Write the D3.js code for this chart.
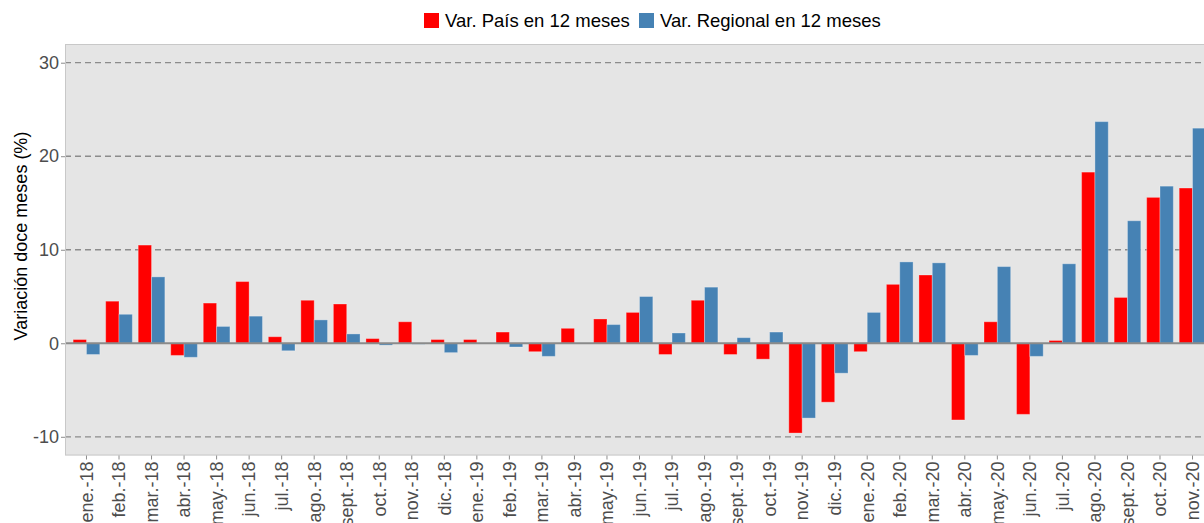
<!DOCTYPE html>
<html>
<head>
<meta charset="utf-8">
<script src="https://cdn.jsdelivr.net/npm/d3@7"></script>
<style>
  html, body { margin: 0; padding: 0; background: #ffffff; }
  svg { display: block; font-family: "Liberation Sans", Arial, sans-serif; }
</style>
</head>
<body>
<svg id="chart" width="1204" height="523"></svg>
<script>
const categories = [
  "ene.-18","feb.-18","mar.-18","abr.-18","may.-18","jun.-18","jul.-18","ago.-18","sept.-18","oct.-18","nov.-18","dic.-18",
  "ene.-19","feb.-19","mar.-19","abr.-19","may.-19","jun.-19","jul.-19","ago.-19","sept.-19","oct.-19","nov.-19","dic.-19",
  "ene.-20","feb.-20","mar.-20","abr.-20","may.-20","jun.-20","jul.-20","ago.-20","sept.-20","oct.-20","nov.-20"
];
const varPais = [
  0.4, 4.5, 10.5, -1.3, 4.3, 6.6, 0.7, 4.6, 4.2, 0.5, 2.3, 0.4,
  0.4, 1.2, -0.9, 1.6, 2.6, 3.3, -1.2, 4.6, -1.2, -1.7, -9.6, -6.3,
  -0.9, 6.3, 7.3, -8.2, 2.3, -7.6, 0.3, 18.3, 4.9, 15.6, 16.6
];
const varRegional = [
  -1.2, 3.1, 7.1, -1.5, 1.8, 2.9, -0.8, 2.5, 1.0, -0.2, -0.1, -1.0,
  0.0, -0.4, -1.4, 0.0, 2.0, 5.0, 1.1, 6.0, 0.6, 1.2, -8.0, -3.2,
  3.3, 8.7, 8.6, -1.3, 8.2, -1.4, 8.5, 23.7, 13.1, 16.8, 23.0
];
const seriesNames = ["Var. País en 12 meses", "Var. Regional en 12 meses"];
const seriesColors = ["#ff0000", "#4682b4"];
const yTicks = [-10, 0, 10, 20, 30];
const yDomain = [-12, 32];
const yTitle = "Variación doce meses (%)";

const svg = d3.select("#chart");
const panel = { left: 65, right: 1214, top: 44, bottom: 455.5 };

const x = d3.scaleBand()
  .domain(categories)
  .range([panel.left, panel.right])
  .paddingInner(0.18)
  .paddingOuter(0.25);
const xSub = d3.scaleBand()
  .domain([0, 1])
  .range([0, x.bandwidth()]);
const y = d3.scaleLinear().domain(yDomain).range([panel.bottom, panel.top]);

// clip for panel
svg.append("defs").append("clipPath").attr("id", "clip")
  .append("rect")
  .attr("x", panel.left).attr("y", panel.top)
  .attr("width", panel.right - panel.left).attr("height", panel.bottom - panel.top);

// panel background
svg.append("rect")
  .attr("x", panel.left).attr("y", panel.top)
  .attr("width", panel.right - panel.left).attr("height", panel.bottom - panel.top)
  .attr("fill", "#e5e5e5");

// gridlines
svg.append("g").selectAll("line")
  .data(yTicks.filter(d => d !== 0))
  .join("line")
  .attr("x1", panel.left).attr("x2", panel.right)
  .attr("y1", d => y(d)).attr("y2", d => y(d))
  .attr("stroke", "#8c8c8c")
  .attr("stroke-width", 1.3)
  .attr("stroke-dasharray", "6,4");

// bars
const rows = categories.map((c, i) => ({ c, vals: [varPais[i], varRegional[i]] }));
const barsG = svg.append("g").attr("clip-path", "url(#clip)");
barsG.selectAll("g")
  .data(rows)
  .join("g")
  .attr("transform", d => `translate(${x(d.c)},0)`)
  .selectAll("rect")
  .data(d => d.vals.map((v, k) => ({ v, k })))
  .join("rect")
  .attr("x", d => xSub(d.k))
  .attr("width", xSub.bandwidth())
  .attr("y", d => y(Math.max(0, d.v)))
  .attr("height", d => Math.abs(y(d.v) - y(0)))
  .attr("fill", d => seriesColors[d.k])
  .attr("stroke", "#ffffff")
  .attr("stroke-opacity", 0.3)
  .attr("stroke-width", 1);

// zero line
svg.append("line")
  .attr("x1", panel.left).attr("x2", panel.right)
  .attr("y1", y(0)).attr("y2", y(0))
  .attr("stroke", "#8a8a8a")
  .attr("stroke-width", 2);

// panel border
svg.append("rect")
  .attr("x", panel.left + 0.5).attr("y", panel.top + 0.5)
  .attr("width", panel.right - panel.left - 1).attr("height", panel.bottom - panel.top - 1)
  .attr("fill", "none")
  .attr("stroke", "#c8c8c8")
  .attr("stroke-width", 1);

// y axis
const yAxis = d3.axisLeft(y).tickValues(yTicks).tickSize(4).tickPadding(2)
  .tickFormat(d => String(d));
const yg = svg.append("g").attr("transform", `translate(${panel.left},0)`).call(yAxis);
yg.select(".domain").remove();
yg.selectAll(".tick line").attr("stroke", "#8c8c8c");
yg.selectAll(".tick text")
  .attr("fill", "#4d4d4d")
  .style("font-size", "18px")
  .style("font-family", "'Liberation Sans', Arial, sans-serif");

// x axis
const xAxis = d3.axisBottom(x).tickSize(4).tickPadding(2);
const xg = svg.append("g").attr("transform", `translate(0,${panel.bottom})`).call(xAxis);
xg.select(".domain").remove();
xg.selectAll(".tick line").attr("stroke", "#8c8c8c");
xg.selectAll(".tick text")
  .attr("fill", "#4d4d4d")
  .style("font-size", "18px")
  .style("font-family", "'Liberation Sans', Arial, sans-serif")
  .attr("text-anchor", "end")
  .attr("transform", "rotate(-90)")
  .attr("x", -6)
  .attr("y", 0)
  .attr("dy", "0.35em");

// y title
svg.append("text")
  .attr("transform", `translate(27,236) rotate(-90)`)
  .attr("text-anchor", "middle")
  .attr("fill", "#000000")
  .style("font-size", "18px")
  .text(yTitle);

// legend
const legend = svg.append("g");
const legendItems = [
  { name: seriesNames[0], color: seriesColors[0], x: 424 },
  { name: seriesNames[1], color: seriesColors[1], x: 639 }
];
legendItems.forEach(it => {
  legend.append("rect")
    .attr("x", it.x).attr("y", 13)
    .attr("width", 15).attr("height", 15)
    .attr("fill", it.color);
  legend.append("text")
    .attr("x", it.x + 21).attr("y", 27)
    .attr("fill", "#000000")
    .style("font-size", "18.5px")
    .text(it.name);
});
</script>
</body>
</html>
